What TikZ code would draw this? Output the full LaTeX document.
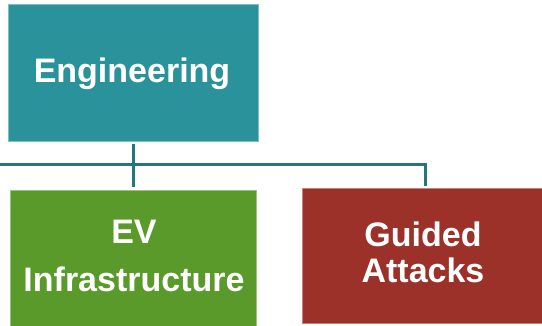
\documentclass[tikz,border=0pt]{standalone}
\usepackage{fontspec}
\setmainfont{Liberation Sans}
\definecolor{tealbox}{HTML}{2A929B}
\definecolor{greenbox}{HTML}{5A9A2A}
\definecolor{redbox}{HTML}{9B3129}
\definecolor{linkline}{HTML}{23787F}
\begin{document}
\begin{tikzpicture}[x=1pt,y=-1pt,
  orgbox/.style={rectangle,inner sep=0pt,line width=0.6pt},
  boxlabel/.style={text=white,font=\fontsize{34}{36}\selectfont\bfseries,
    inner sep=0pt,anchor=base,align=center},
  link/.style={draw=linkline,line width=3pt}]
\useasboundingbox (0,0) rectangle (542,326);
% boxes
\node[orgbox,fill=tealbox,draw=tealbox!60!white,minimum width=250pt,minimum height=137pt]
  (eng) at (133,72.5) {};
\node[orgbox,fill=greenbox,draw=greenbox!60!white,minimum width=246pt,minimum height=140pt]
  (ev) at (133,260) {};
\node[orgbox,fill=redbox,draw=redbox!60!white,minimum width=242pt,minimum height=135pt]
  (ga) at (423,255.5) {};
% labels (base anchor sits on the last line)
\node[boxlabel] (engtext) at (132,82.7) {Engineering};
\node[boxlabel] (evtext) at (134,292) {EV\\[12.7pt]Infrastructure};
\node[boxlabel] (gatext) at (423,282.7) {Guided\\Attacks};
% connectors
\coordinate (left) at (0,165);
\coordinate (tapeng) at (133,144);
\coordinate (tapev) at (133,187.5);
\coordinate (tapga) at (425,186);
\draw[link] (tapeng) -- (tapev);
\draw[link] (left) -- (left -| tapga) -- (tapga);
\end{tikzpicture}
\end{document}
